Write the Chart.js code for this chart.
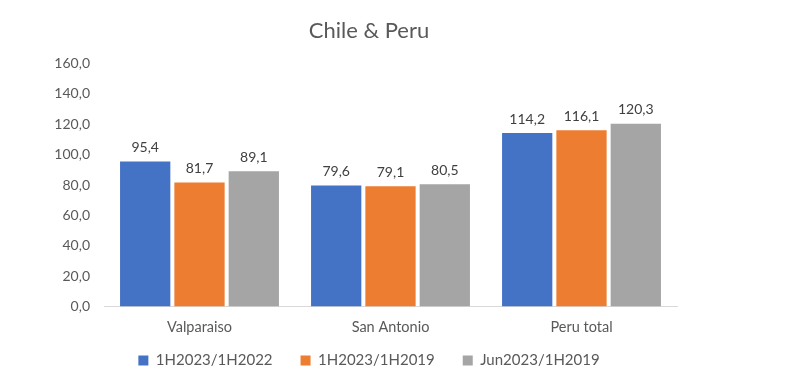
<!DOCTYPE html>
<html>
<head>
<meta charset="utf-8">
<script src="https://cdn.jsdelivr.net/npm/chart.js@4"></script>
<style>
  html, body { margin: 0; padding: 0; background: #fff; }
  #wrap { width: 785px; height: 388px; }
</style>
</head>
<body>
<div id="wrap"><canvas id="c"></canvas></div>
<script>
const categories = ["Valparaiso", "San Antonio", "Peru total"];
const series1 = [95.4, 79.6, 114.2];
const series2 = [81.7, 79.1, 116.1];
const series3 = [89.1, 80.5, 120.3];
const seriesNames = ["1H2023/1H2022", "1H2023/1H2019", "Jun2023/1H2019"];
const yTicks = [0, 20, 40, 60, 80, 100, 120, 140, 160];

const FONT = "Lato, 'Open Sans', sans-serif";
const fmt = v => v.toFixed(1).replace('.', ',');

const dataLabels = {
  id: 'dataLabels',
  afterDatasetsDraw(chart) {
    const ctx = chart.ctx;
    ctx.save();
    ctx.font = "14px " + FONT;
    ctx.fillStyle = "#404040";
    ctx.textAlign = "center";
    ctx.textBaseline = "middle";
    chart.data.datasets.forEach((ds, i) => {
      chart.getDatasetMeta(i).data.forEach((bar, j) => {
        ctx.fillText(fmt(ds.data[j]), bar.x, bar.y - 14);
      });
    });
    ctx.restore();
  }
};

// move the legend row up closer to the axis labels
const legendShift = {
  id: 'legendShift',
  afterLayout(chart) {
    if (chart.legend) {
      chart.legend.top -= 23;
      chart.legend.bottom -= 23;
    }
  }
};

new Chart(document.getElementById('c'), {
  type: 'bar',
  data: {
    labels: categories,
    datasets: [
      { label: seriesNames[0], data: series1, backgroundColor: '#4472C4' },
      { label: seriesNames[1], data: series2, backgroundColor: '#ED7D31' },
      { label: seriesNames[2], data: series3, backgroundColor: '#A5A5A5' }
    ]
  },
  options: {
    responsive: true,
    maintainAspectRatio: false,
    animation: false,
    layout: { padding: { left: 0, right: 47, top: 18, bottom: -13 } },
    datasets: { bar: { categoryPercentage: 0.853, barPercentage: 0.926 } },
    plugins: {
      title: {
        display: true, text: 'Chile & Peru', color: '#595959',
        font: { family: FONT, size: 22, weight: 'normal' },
        padding: { top: 0, bottom: 19 }
      },
      legend: {
        position: 'bottom',
        labels: {
          color: '#595959', font: { family: FONT, size: 15 },
          boxWidth: 10, boxHeight: 10, padding: 28
        }
      },
      tooltip: { enabled: false }
    },
    scales: {
      x: {
        grid: { display: false, drawTicks: false },
        border: { display: true, color: '#D9D9D9' },
        ticks: { color: '#595959', font: { family: FONT, size: 14.5 }, padding: 12 }
      },
      y: {
        min: 0, max: 160,
        afterBuildTicks: s => { s.ticks = yTicks.map(v => ({ value: v })); },
        afterFit: s => { s.width = 104; },
        grid: { display: false, drawTicks: false },
        border: { display: false },
        ticks: {
          color: '#595959', font: { family: FONT, size: 14 }, padding: 14,
          callback: v => fmt(v)
        }
      },
      yRight: {
        position: 'right', display: true,
        afterFit: s => { s.width = 61; },
        grid: { display: false, drawTicks: false },
        border: { display: false },
        ticks: { display: false }
      }
    }
  },
  plugins: [dataLabels, legendShift]
});
</script>
</body>
</html>
